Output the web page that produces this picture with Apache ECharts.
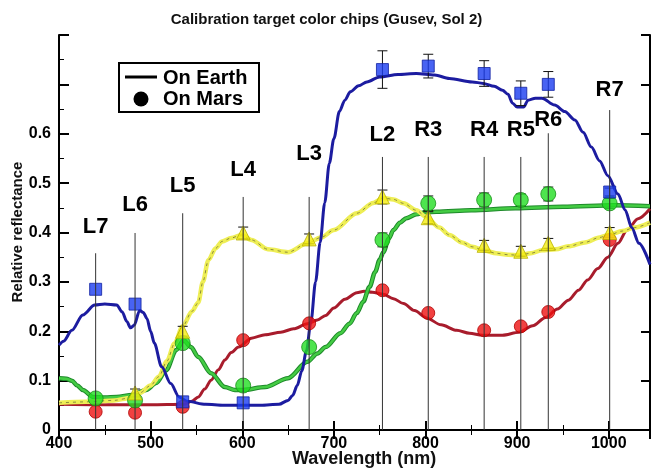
<!DOCTYPE html>
<html><head><meta charset="utf-8">
<script src="https://cdn.jsdelivr.net/npm/echarts@6/dist/echarts.min.js"></script>
<style>html,body{margin:0;padding:0;background:#fff}#c{width:653px;height:472px}</style>
</head><body><div id="c"></div>
<script>
// ---- Data ----
const chipNames = ['L7','L6','L5','L4','L3','L2','R3','R4','R5','R6','R7'];
const chipNm = [440,483,535,601,673,753,803,864,904,934,1001];
const chipLineTop = [0.358,0.399,0.439,0.472,0.472,0.553,0.553,0.553,0.553,0.601,0.648];
const chipLabelY = [0.411,0.455,0.494,0.526,0.559,0.597,0.607,0.607,0.607,0.628,0.688];

// On Mars measurements (at chip wavelengths)
const blueMars   = [0.285,0.255,0.057,0.055,null,0.730,0.737,0.722,0.682,0.700,0.482];
const blueMarsErr= [0,0,0,0,null,0.038,0.024,0.026,0.025,0.026,0.008];
const greenMars  = [0.064,0.060,0.176,0.090,0.168,0.385,0.459,0.466,0.466,0.478,0.459];
const greenMarsErr=[0,0,0,0,0,0.014,0.015,0.014,0.012,0.014,0.010];
const redMars    = [0.037,0.035,0.047,0.182,0.216,0.283,0.237,0.202,0.210,0.239,0.385];
const yellowMars = [null,0.075,0.200,0.399,0.387,0.472,0.430,0.374,0.362,0.378,0.400];
const yellowMarsErr=[null,0.008,0.010,0.012,0.010,0.014,0.012,0.010,0.010,0.010,0.010];

// On Earth spectra
const blueEarthNm = [400,405,414,426,439,450,463,469,474,478,482,488,492,496,500,504,512,522,531,540,560,580,600,620,640,650,655,660,665,670,675,680,685,690,695,700,706,712,718,727,736,750,770,790,810,826,851,863,875,884,890,895,900,907,912,920,927,941,952,963,972,981,990,999,1010,1018,1025,1033,1045];
const blueEarthR  = [0.172,0.180,0.202,0.233,0.253,0.255,0.253,0.239,0.220,0.207,0.212,0.242,0.238,0.226,0.200,0.176,0.128,0.094,0.067,0.058,0.052,0.050,0.050,0.050,0.052,0.060,0.070,0.090,0.120,0.160,0.220,0.300,0.380,0.460,0.540,0.590,0.645,0.668,0.685,0.697,0.705,0.715,0.720,0.722,0.719,0.712,0.705,0.702,0.696,0.688,0.680,0.662,0.654,0.654,0.668,0.672,0.672,0.658,0.645,0.628,0.603,0.573,0.545,0.515,0.478,0.445,0.410,0.378,0.335];

const greenEarthNm = [400,408,414,420,426,437,450,463,480,495,506,517,528,536,544,552,566,581,592,601,625,650,671,682,691,707,717,725,732,739,745,750,754,760,765,772,779,790,800,812,850,898,950,1006,1045];
const greenEarthR  = [0.105,0.104,0.100,0.090,0.081,0.067,0.066,0.067,0.071,0.081,0.095,0.121,0.162,0.182,0.168,0.148,0.115,0.087,0.081,0.081,0.087,0.105,0.138,0.155,0.168,0.196,0.215,0.237,0.260,0.290,0.320,0.345,0.360,0.388,0.405,0.420,0.429,0.437,0.441,0.442,0.445,0.449,0.452,0.455,0.453];

const redEarthNm = [400,450,500,536,545,552,559,566,574,581,588,596,610,625,642,656,671,682,691,700,712,725,733,742,754,765,776,788,801,817,834,848,862,884,902,917,931,944,956,967,977,988,999,1010,1020,1032,1045];
const redEarthR  = [0.052,0.051,0.051,0.052,0.058,0.067,0.083,0.101,0.122,0.142,0.157,0.168,0.186,0.193,0.198,0.205,0.215,0.223,0.232,0.247,0.265,0.278,0.281,0.279,0.275,0.266,0.256,0.242,0.227,0.213,0.202,0.196,0.192,0.192,0.198,0.211,0.228,0.245,0.263,0.283,0.304,0.327,0.350,0.378,0.405,0.428,0.448];

const yellowEarthNm = [400,430,460,478,488,500,509,518,526,535,545,552,557,563,571,578,588,599,610,628,650,671,686,700,725,743,754,765,776,790,801,815,826,840,851,865,877,890,902,915,927,942,956,974,990,1000,1015,1028,1045];
const yellowEarthR  = [0.055,0.057,0.060,0.065,0.075,0.090,0.108,0.140,0.175,0.210,0.240,0.258,0.300,0.344,0.368,0.382,0.389,0.395,0.385,0.366,0.360,0.378,0.390,0.405,0.439,0.460,0.470,0.467,0.459,0.445,0.431,0.410,0.395,0.380,0.371,0.363,0.358,0.355,0.354,0.358,0.364,0.366,0.372,0.380,0.390,0.395,0.403,0.410,0.420];

const xTickLabels = ['400','500','600','700','800','900','1000'];
const yTickLabels = ['0','0.1','0.2','0.3','0.4','0.5','0.6'];

// ---- Build ----
const pairs = (xs, ys) => xs.map((x, i) => [x, ys[i]]);
const marsPairs = ys => chipNm.map((x, i) => [x, ys[i]]).filter(d => d[1] != null);
const errData = [];
[[blueMars, blueMarsErr],[greenMars, greenMarsErr],[yellowMars, yellowMarsErr]].forEach(([v, e]) => {
  v.forEach((y, i) => { if (y != null && e[i]) errData.push([chipNm[i], y - e[i], y + e[i]]); });
});
const chipData = chipNm.map((x, i) => [x, chipLineTop[i], chipLabelY[i], chipNames[i]]);

const FONT = '"Liberation Sans", Arial, sans-serif';
const chart = echarts.init(document.getElementById('c'));

const lineS = (name, xs, ys, color, width, extra) => Object.assign({
  name, type: 'line', data: pairs(xs, ys), showSymbol: false, symbol: 'none',
  smooth: 0.3, smoothMonotone: 'x', z: 2, silent: true,
  lineStyle: { color, width }
}, extra || {});
const markS = (name, ys, symbol, size, color, border) => ({
  name, type: 'scatter', data: marsPairs(ys), symbol, symbolSize: size, z: 4, silent: true,
  itemStyle: { color, borderColor: border, borderWidth: 1 }
});

chart.setOption({
  animation: false,
  backgroundColor: '#fff',
  textStyle: { fontFamily: FONT },
  title: {
    text: 'Calibration target color chips (Gusev, Sol 2)', left: 'center', top: 7,
    textStyle: { fontSize: 15, fontWeight: 'bold', color: '#111', fontFamily: FONT }
  },
  grid: { left: 59, right: -2, top: 35, bottom: 42 },
  xAxis: [{
    type: 'value', min: 400, max: 1045, interval: 100, position: 'bottom',
    axisLine: { show: true, lineStyle: { color: '#000', width: 2 } },
    axisTick: { inside: true, length: 9, lineStyle: { color: '#000', width: 2 } },
    minorTick: { show: true, splitNumber: 2, length: 5, lineStyle: { color: '#000', width: 1 } },
    splitLine: { show: false },
    axisLabel: {
      margin: 6, fontSize: 16, fontWeight: 'bold', color: '#000', fontFamily: FONT,
      formatter: v => { const s = String(Math.round(v)); return xTickLabels.includes(s) && Math.abs(v - Math.round(v)) < 1e-6 ? s : ''; }
    }
  }, {
    type: 'value', min: 400, max: 1045, interval: 100, position: 'top',
    axisLine: { show: true, lineStyle: { color: '#000', width: 2 } },
    axisTick: { inside: true, length: 9, lineStyle: { color: '#000', width: 2 } },
    minorTick: { show: true, splitNumber: 2, length: 5, lineStyle: { color: '#000', width: 1 } },
    splitLine: { show: false }, axisLabel: { show: false }
  }],
  yAxis: [{
    type: 'value', min: 0, max: 0.8, interval: 0.1, position: 'left',
    axisLine: { show: true, lineStyle: { color: '#000', width: 2 } },
    axisTick: { inside: true, length: 10, lineStyle: { color: '#000', width: 2 } },
    minorTick: { show: true, splitNumber: 2, length: 5, lineStyle: { color: '#000', width: 1 } },
    splitLine: { show: false },
    axisLabel: {
      margin: 8, fontSize: 16, fontWeight: 'bold', color: '#000', fontFamily: FONT,
      formatter: v => { const s = String(+v.toFixed(1)); return yTickLabels.includes(s) ? s : ''; }
    }
  }, {
    type: 'value', min: 0, max: 0.8, interval: 0.1, position: 'right',
    axisLine: { show: true, lineStyle: { color: '#000', width: 2 } },
    axisTick: { inside: true, length: 9, lineStyle: { color: '#000', width: 2 } },
    splitLine: { show: false }, axisLabel: { show: false }
  }],
  graphic: [
    { type: 'text', left: 292, top: 450, z: 10,
      style: { text: 'Wavelength (nm)', font: 'bold 18px ' + FONT, fill: '#111' } },
    { type: 'text', x: 18, y: 232, rotation: Math.PI / 2, z: 10,
      style: { text: 'Relative reflectance', font: 'bold 15px ' + FONT, fill: '#111', textAlign: 'center', textVerticalAlign: 'middle' } },
    { type: 'rect', shape: { x: 119, y: 63, width: 140, height: 49 }, z: 10,
      style: { fill: '#fff', stroke: '#000', lineWidth: 2 } },
    { type: 'line', shape: { x1: 125, y1: 77, x2: 157, y2: 77 }, z: 11,
      style: { stroke: '#000', lineWidth: 3 } },
    { type: 'circle', shape: { cx: 141, cy: 99, r: 7.5 }, z: 11, style: { fill: '#000' } },
    { type: 'text', x: 163, y: 78, z: 11,
      style: { text: 'On Earth', font: 'bold 20px ' + FONT, fill: '#000', textVerticalAlign: 'middle' } },
    { type: 'text', x: 163, y: 99, z: 11,
      style: { text: 'On Mars', font: 'bold 20px ' + FONT, fill: '#000', textVerticalAlign: 'middle' } }
  ],
  series: [
    lineS('red earth', redEarthNm, redEarthR, '#a81c2c', 3),
    lineS('green earth base', greenEarthNm, greenEarthR, '#1e8a2a', 4.5),
    lineS('green earth', greenEarthNm, greenEarthR, '#44cc44', 2.5),
    lineS('yellow earth base', yellowEarthNm, yellowEarthR, '#eeee55', 4.5),
    lineS('yellow earth tex', yellowEarthNm, yellowEarthR, '#8a8a3a', 1, { lineStyle: { color: '#8a8a3a', width: 1, type: [3, 4] } }),
    lineS('blue earth', blueEarthNm, blueEarthR, '#1c1ca0', 3),
    {
      name: 'errors', type: 'custom', data: errData, z: 3, silent: true,
      renderItem: (params, api) => {
        const x = api.value(0);
        const a = api.coord([x, api.value(1)]), b = api.coord([x, api.value(2)]);
        const st = { stroke: '#111', lineWidth: 1 };
        return { type: 'group', children: [
          { type: 'line', shape: { x1: a[0], y1: a[1], x2: b[0], y2: b[1] }, style: st },
          { type: 'line', shape: { x1: a[0] - 5, y1: a[1], x2: a[0] + 5, y2: a[1] }, style: st },
          { type: 'line', shape: { x1: b[0] - 5, y1: b[1], x2: b[0] + 5, y2: b[1] }, style: st }
        ] };
      }
    },
    markS('red mars', redMars, 'circle', 13, '#ee1111', '#b00000'),
    markS('green mars', greenMars, 'circle', 15, '#22dd22', '#189018'),
    markS('yellow mars', yellowMars, 'triangle', 14, '#f5ee10', '#b8b000'),
    markS('blue mars', blueMars, 'rect', 12, '#1a3cf0', '#1020a0'),
    {
      name: 'chips', type: 'custom', data: chipData, z: 6, silent: true,
      renderItem: (params, api) => {
        const x = api.value(0);
        const p0 = api.coord([x, 0]), p1 = api.coord([x, api.value(1)]), pl = api.coord([x, api.value(2)]);
        return { type: 'group', children: [
          { type: 'line', shape: { x1: p0[0], y1: p0[1], x2: p1[0], y2: p1[1] }, style: { stroke: '#333', lineWidth: 1 } },
          { type: 'text', x: pl[0], y: pl[1], style: { text: chipNames[params.dataIndex], font: 'bold 22px ' + FONT, fill: '#000', textAlign: 'center', textVerticalAlign: 'middle' } }
        ] };
      }
    }
  ]
});
</script>
</body></html>
